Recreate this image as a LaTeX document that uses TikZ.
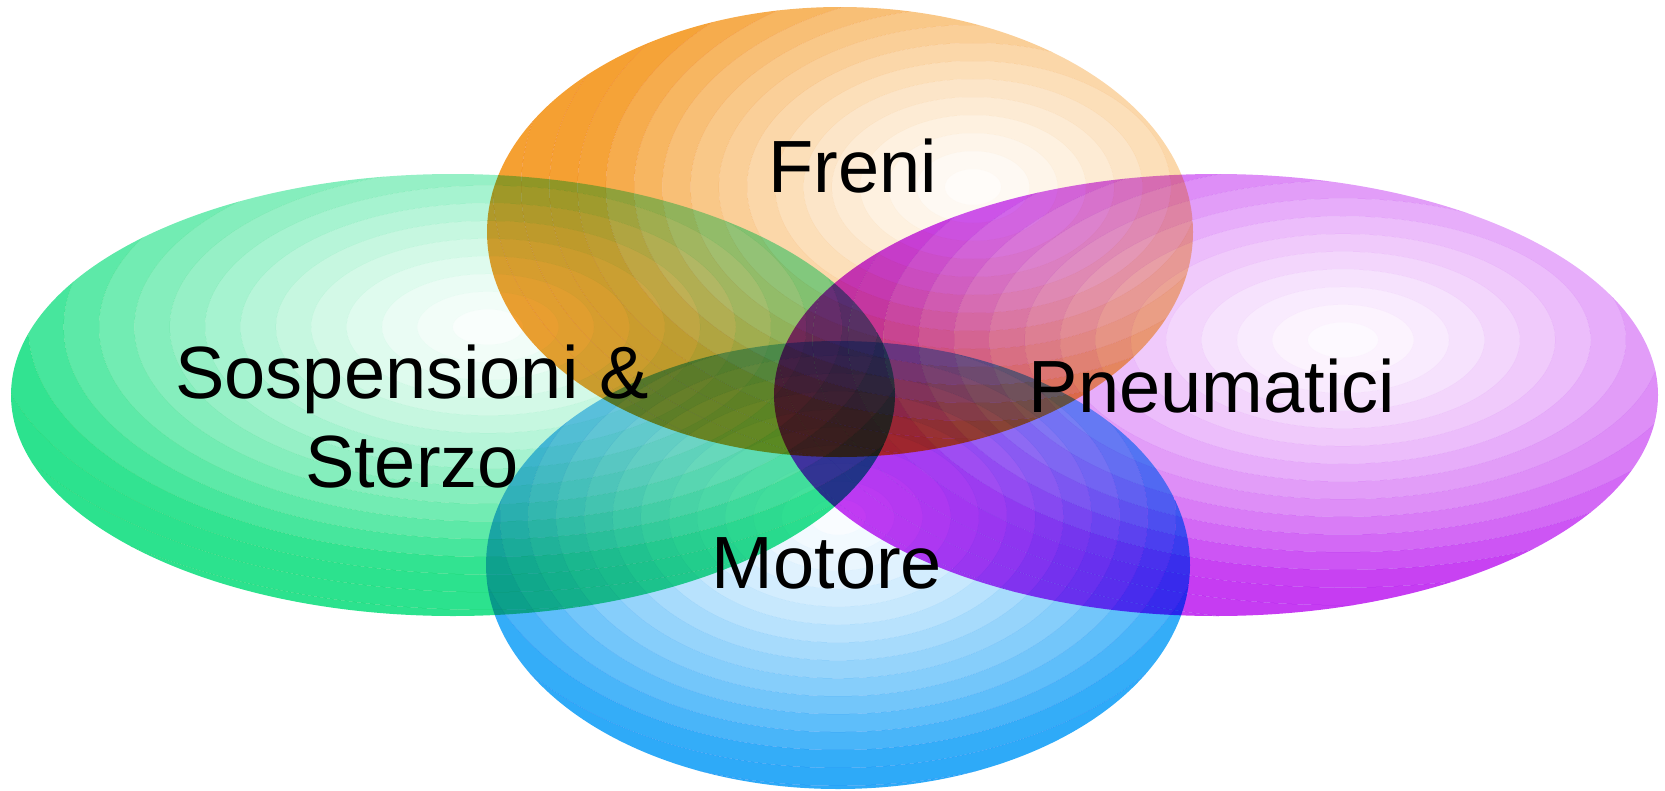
\documentclass[tikz,border=0pt]{standalone}
\usepackage{fontspec}
\setmainfont{Liberation Sans}
\definecolor{cgreen}{HTML}{2CE28E}
\definecolor{corange}{HTML}{F5A032}
\definecolor{cpurple}{HTML}{C63CF2}
\definecolor{cblue}{HTML}{2EAAF8}
\tikzset{
  blob/.style={blend mode=multiply, even odd rule},
  lbl/.style={font=\fontsize{74}{89}\selectfont, text=black, inner sep=0pt}
}
% #1 cx, #2 cy, #3 rx, #4 ry, #5 hx, #6 hy (highlight), #7 colour
\newcommand\ringblob[7]{%
  \begin{scope}
  \clip (#1,#2) ellipse [x radius=#3, y radius=#4];
  \foreach \k in {0,...,18}{%
    \pgfmathsetmacro\ro{\k==18 ? 2.6 : 0.08*(\k+1)}%
    \pgfmathsetmacro\ri{\k==0 ? 0.001 : 0.08*\k}%
    \pgfmathtruncatemacro\pc{3+97*(min(1,0.08*(\k+0.5)/1.1))^1.5}%
    \fill[blob, fill=#7!\pc!white]
      (#5,#6) ellipse [x radius=\ro*#3, y radius=\ro*#4]
      (#5,#6) ellipse [x radius=\ri*#3, y radius=\ri*#4];
  }
  \end{scope}}
\begin{document}
\begin{tikzpicture}[x=1pt,y=-1pt]
\useasboundingbox (0,0) rectangle (1665,790);
\ringblob{453}{395}{442}{221}{488}{327}{cgreen}
\ringblob{1216}{395}{442}{221}{1343}{340}{cpurple}
\ringblob{840}{232}{353}{225}{973}{187}{corange}
\ringblob{838}{565}{352}{224}{838}{517}{cblue}
\node[lbl, anchor=base] (freni) at (853,192) {Freni};
\node[lbl, anchor=base, align=center] (sosp) at (412,487) {Sospensioni \&\\Sterzo};
\node[lbl, anchor=base] (pneu) at (1212,412) {Pneumatici};
\node[lbl, anchor=base] (motore) at (827,588) {Motore};
\end{tikzpicture}
\end{document}
